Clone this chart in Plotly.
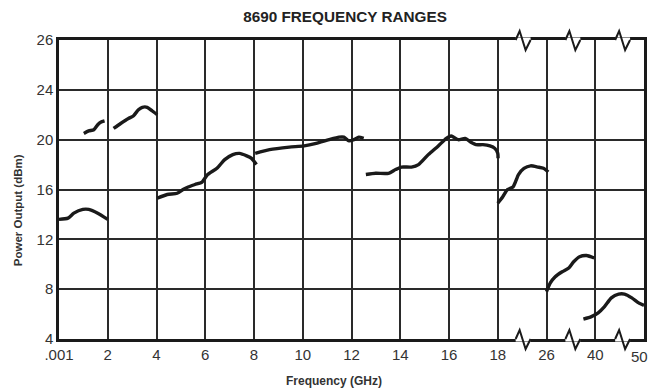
import numpy as np
import plotly.graph_objects as go

# frequency axis has breaks: 0-18 GHz linear, then 18-26, 26-40, 40-50 get one grid cell each
break_ghz = [0.001, 18, 26, 40, 50]
break_pos = [0, 18, 20, 22, 24]
x_tickvals = list(range(0, 25, 2))
x_ticktext = ['.001', '2', '4', '6', '8', '10', '12', '14', '16', '18', '26', '40', '50']

# power axis: grid labelled 4..24 in steps of 4, top line labelled 26
y_tickvals = [4, 8, 12, 16, 20, 24, 28]
y_ticktext = ['4', '8', '12', '16', '20', '24', '26']

# one curve per plug-in range (GHz, dBm)
f1 = [0.001, 0.37, 0.61, 0.98, 1.22, 1.59, 2.0]
p1 = [13.6, 13.7, 14.1, 14.4, 14.4, 14.1, 13.6]

f2 = [1.02, 1.22, 1.43, 1.59, 1.71, 1.87]
p2 = [20.5, 20.7, 20.8, 21.2, 21.4, 21.5]

f3 = [2.24, 2.53, 2.85, 3.05, 3.26, 3.42, 3.62, 3.83, 4.03]
p3 = [20.9, 21.3, 21.7, 21.9, 22.4, 22.6, 22.6, 22.3, 22.0]

f4 = [4.03, 4.44, 4.85, 5.09, 5.3, 5.58, 5.87, 6.1, 6.48, 6.8, 7.13, 7.41, 7.7, 7.9, 8.1]
p4 = [15.3, 15.6, 15.7, 16.0, 16.2, 16.4, 16.6, 17.2, 17.7, 18.4, 18.8, 18.9, 18.7, 18.5, 18.0]

f5 = [8.05, 8.64, 9.45, 10.06, 10.55, 11.08, 11.49, 11.69, 11.9, 12.1, 12.3, 12.5]
p5 = [18.9, 19.2, 19.4, 19.5, 19.7, 20.0, 20.2, 20.2, 19.9, 20.0, 20.2, 20.1]

f6 = [12.59, 12.99, 13.52, 13.81, 14.05, 14.46, 14.75, 15.15, 15.56, 15.89, 16.09,
      16.38, 16.66, 16.9, 17.11, 17.39, 17.68, 17.88, 18.0, 18.05]
p6 = [17.2, 17.3, 17.3, 17.6, 17.8, 17.8, 18.0, 18.8, 19.5, 20.1, 20.3,
      20.0, 20.1, 19.8, 19.6, 19.6, 19.5, 19.3, 18.9, 18.5]

f7 = [18.0, 18.8, 19.6, 20.5, 20.9, 21.4, 22.3, 23.4, 24.6, 25.5, 26.5]
p7 = [14.9, 15.4, 16.0, 16.2, 16.6, 17.2, 17.7, 17.9, 17.8, 17.7, 17.4]

f8 = [26.0, 27.1, 28.5, 30.5, 32.4, 33.8, 35.5, 37.5, 39.7]
p8 = [7.8, 8.5, 9.0, 9.4, 9.7, 10.2, 10.6, 10.7, 10.5]

f9 = [36.6, 38.9, 40.6, 41.9, 43.3, 44.8, 46.0, 47.5, 48.9, 50.0]
p9 = [5.6, 5.8, 6.1, 6.6, 7.3, 7.6, 7.6, 7.3, 6.9, 6.7]

curves = [(f1, p1), (f2, p2), (f3, p3), (f4, p4), (f5, p5),
          (f6, p6), (f7, p7), (f8, p8), (f9, p9)]

W, H = 654, 390
L, R, T, B = 59, 7, 40, 51
pw, ph = W - L - R, H - T - B

fig = go.Figure()
for f, p in curves:
    fig.add_trace(go.Scatter(
        x=np.interp(f, break_ghz, break_pos), y=p, mode='lines',
        line=dict(color='#1a1a1a', width=3.4, shape='spline', smoothing=0.6),
        hoverinfo='skip', showlegend=False))


def px(x, y):
    return (x - L) / pw, (H - B - y) / ph


# break marks on top and bottom border
shapes = []
for cx in [525, 575, 625]:
    for by in [T, H - B]:
        a = px(cx - 7, by)
        b = px(cx + 8, by)
        shapes.append(dict(type='line', xref='paper', yref='paper',
                           x0=a[0], y0=a[1], x1=b[0], y1=b[1],
                           line=dict(color='white', width=5), layer='above'))
        pts = [px(cx - 7, by), px(cx - 3, by - 9), px(cx + 3, by + 10), px(cx + 8, by)]
        path = 'M ' + ' L '.join(f'{u:.5f},{v:.5f}' for u, v in pts)
        shapes.append(dict(type='path', xref='paper', yref='paper', path=path,
                           line=dict(color='#1a1a1a', width=2), layer='above'))

font = 'Liberation Sans, Arial, sans-serif'
tick_font = dict(family=font, size=15, color='#333')
lab_font = dict(family=font, size=11.5, color='#333')

# last x label would run off the page; place it flush with the right edge
x_ticktext_axis = x_ticktext[:-1] + ['']
ax, ay = px(W - 1, 356)
annotations = [
    dict(text=x_ticktext[-1], xref='paper', yref='paper', x=ax, y=ay,
         xanchor='right', yanchor='middle', showarrow=False, font=tick_font),
    dict(text='<b>Frequency (GHz)</b>', xref='paper', yref='paper',
         x=px(335, 0)[0], y=px(0, 381)[1], xanchor='center', yanchor='middle',
         showarrow=False, font=dict(family=font, size=12, color='#333')),
    dict(text='<b>Power Output (dBm)</b>', xref='paper', yref='paper',
         x=px(18, 0)[0], y=px(0, 210)[1], xanchor='center', yanchor='middle',
         textangle=-90, showarrow=False, font=lab_font),
]

fig.update_layout(
    width=W, height=H,
    margin=dict(l=L, r=R, t=T, b=B),
    paper_bgcolor='white', plot_bgcolor='white',
    title=dict(text='<b>8690 FREQUENCY RANGES</b>', x=345 / W, xanchor='center',
               y=1 - 17 / H, yanchor='middle',
               font=dict(family=font, size=15.3, color='#222')),
    shapes=shapes,
    annotations=annotations,
)
fig.update_xaxes(
    range=[0, 24], tickvals=x_tickvals, ticktext=x_ticktext_axis,
    showgrid=True, gridcolor='#2a2a2a', gridwidth=1.6,
    showline=True, linecolor='#1a1a1a', linewidth=2.5, mirror=True,
    ticks='', zeroline=False, tickfont=tick_font,
)
fig.update_yaxes(
    range=[4, 28], tickvals=y_tickvals, ticktext=y_ticktext,
    showgrid=True, gridcolor='#2a2a2a', gridwidth=1.6,
    showline=True, linecolor='#1a1a1a', linewidth=2.5, mirror=True,
    ticks='', zeroline=False, tickfont=tick_font,
)

# drop the default page margin so the figure sits at the window's top-left corner
fig.write_html("out.html", config={'displayModeBar': False},
               post_script="document.body.style.margin='0';"
                           "document.body.style.overflow='hidden';")
